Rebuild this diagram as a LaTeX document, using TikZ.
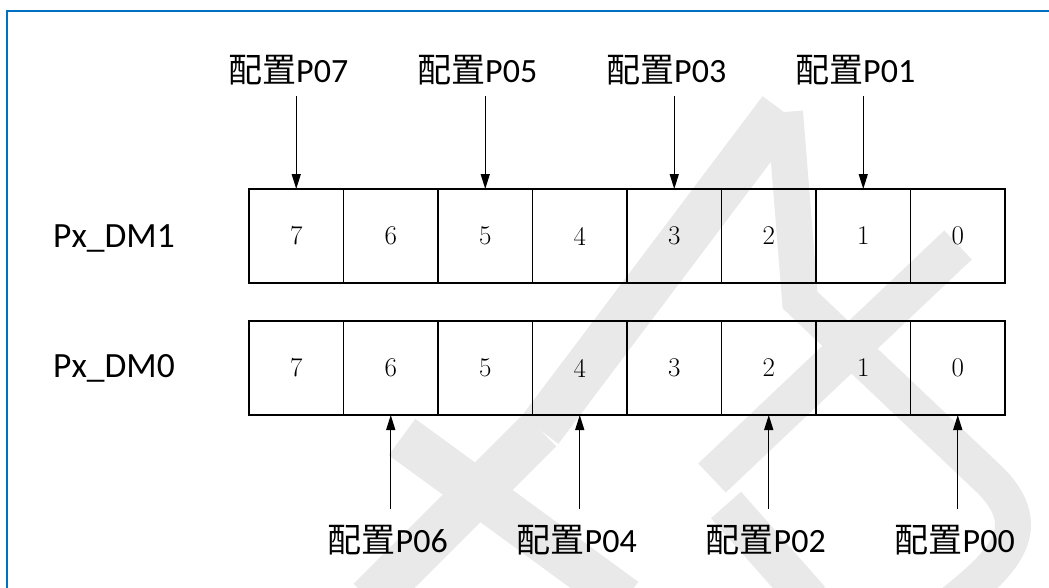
\documentclass[tikz,border=0pt]{standalone}
\usepackage{fontspec}
\newfontfamily\cjk{Noto Sans CJK SC}
\newfontfamily\lab{Carlito}
\usetikzlibrary{arrows.meta}
\definecolor{wm}{RGB}{233,233,233}
\definecolor{frameblue}{RGB}{0,112,192}
\begin{document}
\begin{tikzpicture}[x=1pt,y=-1pt,
  cellbox/.style={draw=black,line width=1.4pt,minimum width=94.5pt,minimum height=94pt,inner sep=0pt,outer sep=0pt,font=\fontsize{27}{30}\selectfont},
  toplab/.style={anchor=base,inner sep=0pt,font=\fontsize{34}{37}\selectfont},
  reglab/.style={anchor=base west,inner sep=0pt,font=\lab\fontsize{35.5}{39}\selectfont},
  arr/.style={line width=1.4pt,-{Triangle[length=15pt,width=9pt]}},
  wmstroke/.style={draw=wm,line join=miter,line cap=butt}]
\useasboundingbox (0,0) rectangle (1049,587);
\fill[white] (0,0) rectangle (1049,587);
% watermark
\begin{scope}
\clip (0,0) rectangle (1049,587);
\draw[wmstroke,line width=46pt] (540,430) -- (781,110);
\draw[wmstroke,line width=46pt] (370,600) -- (540,430);
\draw[wmstroke,line width=36pt] (785,112) -- (800,300) -- (990,480) .. controls (1040,530) and (1000,565) .. (950,605);
\draw[wmstroke,line width=40pt] (958,245) -- (712,478);
\draw[wmstroke,line width=40pt] (726,505) -- (810,600);
\draw[wmstroke,line width=45pt] (402,437) -- (625,600);
\end{scope}
% frame
\draw[frameblue,line width=2.6pt] (7,590) coordinate (fb) -- (7,11) coordinate (fc) -- (1052,11) coordinate (fd);
% cells
\foreach \b [count=\k from 0] in {7,6,5,4,3,2,1,0}{
  \node[cellbox] (u\b) at ({249+94.5*(\k+0.5)},236) {\b};
  \node[cellbox] (d\b) at ({249+94.5*(\k+0.5)},368) {\b};
}
% register labels
\node[reglab] (r1) at (53,247) {Px\_DM1};
\node[reglab] (r0) at (53,377) {Px\_DM0};
% top labels and arrows
\foreach \b in {7,5,3,1}{
  \path (u\b.north) ++(0,-93) coordinate (a\b);
  \path (u\b.north) ++(-8,-107) node[toplab] (t\b) {{\cjk 配置}{\lab P0\b}};
  \draw[arr] (a\b) -- (u\b.north);
}
% bottom labels and arrows
\foreach \b in {6,4,2,0}{
  \path (d\b.south) ++(0,94) coordinate (b\b);
  \path (d\b.south) ++(-3,137) node[toplab] (s\b) {{\cjk 配置}{\lab P0\b}};
  \draw[arr] (b\b) -- (d\b.south);
}
\end{tikzpicture}
\end{document}
